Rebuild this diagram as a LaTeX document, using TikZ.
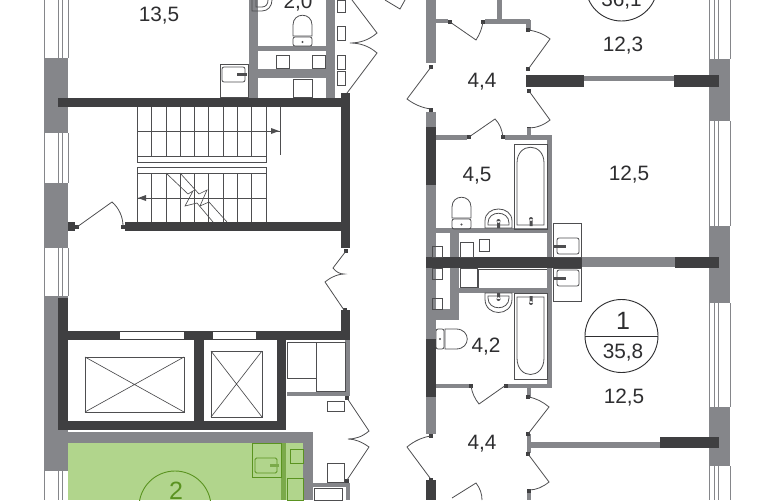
\documentclass[tikz,border=0pt]{standalone}
\usepackage{fontspec}
\setmainfont{Liberation Sans}
\definecolor{wallg}{HTML}{85868A}
\definecolor{walld}{HTML}{3F3F41}
\definecolor{linec}{HTML}{4E4E50}
\definecolor{greenf}{HTML}{B1D58C}
\definecolor{greend}{HTML}{5A9320}
\definecolor{greenw}{HTML}{7BAA4A}
\definecolor{txt}{HTML}{2E2E30}
\newcommand{\wgr}[4]{\fill[wallg] (#1,#2) rectangle (#3,#4);}
\newcommand{\wdk}[4]{\fill[walld] (#1,#2) rectangle (#3,#4);}
\newcommand{\bxx}[4]{\draw[ln] (#1,#2) rectangle (#3,#4);}
\newcommand{\pvt}[2]{\fill[walld] (#1-2,#2-2) rectangle (#1+2,#2+2);}
\newcommand{\winL}[2]{\fill[white] (44,#1) rectangle (68,#2);\foreach \xx in {44,58,62,68}{\draw[winl] (\xx,#1) -- (\xx,#2);}}
\newcommand{\winR}[2]{\fill[white] (709,#1) rectangle (730,#2);\foreach \xx in {709,714,718,730}{\draw[winl] (\xx,#1) -- (\xx,#2);}}
\tikzset{
  ln/.style={draw=linec,line width=0.8pt},
  thinl/.style={draw=linec,line width=0.65pt},
  winl/.style={draw=wallg,line width=0.8pt},
  gl/.style={draw=greend,line width=0.9pt},
  lbl/.style={font=\fontsize{20.8}{21}\selectfont,text=txt,inner sep=0pt,text height=14.5pt,text depth=0pt},
  biglbl/.style={font=\fontsize{25}{25}\selectfont,inner sep=0pt,text height=17.5pt,text depth=0pt},
  circ/.style={draw=txt,line width=0.9pt},
}
\begin{document}
\begin{tikzpicture}[x=1pt,y=-1pt]
\path[use as bounding box,clip] (0,0) rectangle (770,500);
\fill[white] (0,0) rectangle (770,500);
% left windows and piers
\winL{0}{58}\winL{133}{183}\winL{248}{296}\winL{471}{500}
\wgr{44}{58}{68}{133}
\wgr{44}{183}{68}{248}
\wgr{44}{296}{68}{471}
% right windows and piers
\winR{0}{59}\winR{121}{226}\winR{303}{407}\winR{466}{500}
\wgr{709}{59}{730}{121}
\wgr{709}{226}{730}{303}
\wgr{709}{407}{730}{466}
% green flat
\fill[greenf] (68,443) rectangle (303,500);
\wgr{68}{432}{313}{443}
\wgr{303}{432}{313}{500}
\fill[greenw] (281,443) rectangle (286,500);
\draw[gl] (252,443) rectangle (281,477);
\draw[gl,rounded corners=1.5pt] (255,458) rectangle (277,473);
\fill[greenw] (270,464) rectangle (279,467);
\draw[gl] (290,449) rectangle (303,463);
\draw[gl] (287,478) rectangle (303,500);
\draw[draw=greend,line width=0.9pt] (175,507) circle (36);
\node[biglbl,text=greend] (n2) at (176,491) {2};
% stair hall walls
\wdk{58}{98}{350}{107}
\wdk{341}{93}{350}{248}
\wdk{125}{222}{341}{231}
\wdk{68}{222}{75}{231}
\pvt{77}{227}\pvt{123}{227}
\draw[ln] (77,227) -- (112,202) .. controls (119,208) and (123,217) .. (123,226);
% stairs
\foreach \xx in {137.3,151.6,165.9,180.2,194.5,208.8,223.1,237.4,251.7,266}{
  \draw[thinl] (\xx,107) -- (\xx,156);
  \draw[thinl] (\xx,173) -- (\xx,222);
}
\draw[thinl] (280,107) -- (280,155);
\draw[thinl] (137.3,131) -- (280,131);
\fill[linec] (279,131) -- (271,128) -- (271,134) -- cycle;
\draw[thinl] (137.3,198) -- (266,198);
\fill[linec] (138,198) -- (146,195) -- (146,201) -- cycle;
\draw[thinl] (137.3,156) rectangle (266,162);
\draw[thinl] (137.3,167) rectangle (266,173);
\draw[thinl] (166,173) -- (188,194) -- (193,191) -- (185,206) -- (197,203) -- (213,222);
\draw[thinl] (180,173) -- (199,194) -- (207,190) -- (200,206) -- (209,202) -- (227,222);
% lift block
\wdk{58}{298}{68}{430}
\wdk{58}{331}{350}{340}
\wdk{341}{310}{350}{340}
\fill[white] (120,332) rectangle (184,339);
\fill[white] (213,332) rectangle (256,339);
\wdk{194}{331}{204}{430}
\wdk{277}{331}{286}{430}
\wdk{58}{421}{286}{430}
\bxx{85}{357}{184}{412}
\draw[thinl] (85,357) -- (184,412) (85,412) -- (184,357);
\bxx{211}{351}{262}{417}
\draw[thinl] (211,351) -- (262,417) (211,417) -- (262,351);
% storage
\wgr{345}{340}{350}{396}
\wgr{287}{392}{350}{396}
\bxx{287}{342}{316}{378}
\bxx{316}{342}{345}{391}
\bxx{327}{401}{344}{411}
\bxx{327}{463}{344}{482}
\wgr{313}{483}{350}{487}
\wgr{346}{483}{350}{500}
\bxx{314}{488}{342}{500}
\pvt{347}{398}\pvt{347}{481}
\draw[ln] (347,398) -- (369,431) .. controls (362,437) and (355,439) .. (348,439)
  .. controls (355,439) and (362,442) .. (369,447) -- (347,480);
% middle door
\pvt{346}{251}\pvt{345}{310}
\draw[ln] (346,251) -- (333,268) .. controls (336,272) and (340,274) .. (344,274)
  .. controls (340,274) and (332,276) .. (325,282) -- (344,310);
% top-left flat
\wgr{249}{0}{258}{98}
\wgr{326}{0}{335}{98}
\wgr{258}{46}{326}{51}
\wgr{249}{69}{326}{78}
\bxx{276}{55}{289}{68}
\bxx{312}{55}{325}{68}
\bxx{293}{79}{312}{97}
\bxx{337}{0}{345}{12}
\bxx{337}{26}{345}{40}
\bxx{337}{55}{345}{69}
\bxx{337}{71}{345}{85}
\bxx{220}{64}{248}{97}
\draw[ln,rounded corners=2pt] (222,67) rectangle (245,82);
\fill[linec] (237,73.5) rectangle (247,76);
% D sink
\draw[ln] (252,0) -- (252,11) -- (262,11) .. controls (268,11) and (272,6) .. (272,0);
\draw[ln] (256,0) -- (256,7) -- (262,7) .. controls (266,7) and (268,4) .. (268,0);
% toilet 2,0
\draw[ln] (293,36) -- (293,25) .. controls (293,12) and (312,12) .. (312,25) -- (312,36) -- cycle;
\draw[ln,rounded corners=2pt] (293,37) rectangle (312,46);
\fill[linec] (302.5,42) circle (1.2);
\node[lbl] (a1) at (159,14) {13,5};
\node[lbl] (a2) at (298,1) {2,0};
\draw[ln] (347,93) -- (377,53) .. controls (369,46) and (360,43) .. (350,43)
  .. controls (360,43) and (369,40) .. (377,33) -- (352,0);
\draw[ln] (385,0) -- (400,9) -- (405,0);
% right: upper flat
\wgr{426}{0}{436}{63}
\wgr{426}{112}{436}{127}
\wdk{426}{127}{436}{185}
\wgr{426}{185}{436}{320}
\wgr{436}{19}{448}{23}
\wgr{485}{19}{530}{24}
\wgr{497}{0}{502}{20}
\wgr{526}{20}{531}{30}
\pvt{431}{67}\pvt{431}{110}\pvt{450}{22}\pvt{483}{22}\pvt{528}{30}\pvt{528}{69}\pvt{529}{91}\pvt{529}{129}
\draw[ln] (431,67) -- (407,99) .. controls (415,105) and (423,108) .. (431,109);
\draw[ln] (450,22) -- (476,40) .. controls (480,34) and (482,28) .. (483,22);
\draw[ln] (528,30) .. controls (536,31) and (544,34) .. (550,39) -- (529,68);
\draw[ln] (529,91) -- (550,120) .. controls (544,125) and (536,128) .. (529,128);
\wdk{526}{75}{584}{87}
\wgr{584}{76}{674}{81}
\wdk{674}{75}{719}{87}
\wgr{527}{128}{531}{135}
\wgr{436}{135}{467}{140}
\wgr{505}{135}{552}{140}
\pvt{469}{137}\pvt{503}{137}
\draw[ln] (469,137) -- (495,119) .. controls (500,124) and (502,130) .. (503,137);
\wgr{547}{135}{552}{293}
\wgr{426}{228}{552}{233}
\bxx{514}{144}{547}{229}
\draw[ln] (517,225) -- (517,163) .. controls (517,142) and (544,142) .. (544,163) -- (544,225) -- cycle;
\fill[linec] (531,219) circle (2) (529.5,219) rectangle (532.5,226);
% toilet 4,5
\draw[ln] (452,218) -- (452,207) .. controls (452,194) and (471,194) .. (471,207) -- (471,218) -- cycle;
\draw[ln,rounded corners=2pt] (452,219) rectangle (471,229);
\fill[linec] (461.5,224.5) circle (1.2);
% basin upper
\draw[ln] (485,228) -- (485,221) .. controls (485,205) and (512,205) .. (512,221) -- (512,228) -- cycle;
\draw[ln] (488,225) -- (488,223) .. controls (488,210) and (509,210) .. (509,223) -- (509,225) -- cycle;
\fill[linec] (498.5,221) circle (2) (497,221) rectangle (500,228);
% service shafts
\wgr{450}{233}{459}{320}
\wgr{426}{309}{459}{320}
\wdk{426}{257}{582}{268}
\wgr{582}{257}{675}{267}
\wdk{675}{257}{719}{268}
\bxx{432}{246}{442}{257}
\bxx{432}{268}{442}{279}
\bxx{432}{298}{442}{309}
\bxx{460}{242}{473}{257}
\bxx{479}{239}{489}{251}
\bxx{460}{268}{477}{287}
\bxx{478}{269}{548}{288}
\wgr{459}{288}{552}{293}
\wgr{547}{268}{552}{388}
\bxx{553}{223}{581}{257}
\draw[ln,rounded corners=2pt] (557,238) rectangle (579,254);
\fill[linec] (554,245) rectangle (566,248);
\bxx{553}{268}{581}{301}
\draw[ln,rounded corners=2pt] (557,270) rectangle (579,286);
\fill[linec] (554,277) rectangle (566,280);
% basin lower
\draw[ln] (485,293) -- (485,299) .. controls (485,317) and (512,317) .. (512,299) -- (512,293) -- cycle;
\draw[ln] (488,296) -- (488,298) .. controls (488,311) and (509,311) .. (509,298) -- (509,296) -- cycle;
\fill[linec] (498.5,299) circle (2) (497,293) rectangle (500,299);
% bath lower
\bxx{514}{293}{547}{379}
\draw[ln] (517,297) -- (517,358) .. controls (517,380) and (544,380) .. (544,358) -- (544,297) -- cycle;
\fill[linec] (531,303) circle (2) (529.5,296) rectangle (532.5,303);
% toilet 4,2
\draw[ln] (445,329) -- (456,329) .. controls (471,329) and (471,349) .. (456,349) -- (445,349) -- cycle;
\draw[ln,rounded corners=2pt] (436,329) rectangle (444,349);
\fill[linec] (440,339) circle (1.2);
% lower flat
\wgr{426}{320}{436}{339}
\wdk{426}{339}{436}{397}
\wgr{426}{397}{436}{434}
\wdk{426}{480}{436}{500}
\wgr{436}{384}{470}{388}
\wgr{507}{384}{552}{388}
\wgr{527}{388}{531}{398}
\wgr{527}{434}{531}{453}
\wgr{527}{490}{531}{500}
\wgr{531}{442}{660}{448}
\wdk{660}{437}{719}{448}
\pvt{431}{436}\pvt{431}{480}\pvt{471}{386}\pvt{506}{386}\pvt{528}{397}\pvt{528}{434}\pvt{528}{454}\pvt{529}{491}
\draw[ln] (431,436) .. controls (423,437) and (414,441) .. (407,447) -- (430,478);
\draw[ln] (471,386) .. controls (472,393) and (475,399) .. (479,404) -- (506,385);
\draw[ln] (528,397) .. controls (536,398) and (543,402) .. (549,407) -- (528,434);
\draw[ln] (528,454) -- (549,482) .. controls (543,487) and (536,490) .. (529,490);
\draw[ln] (452,498) -- (476,483) .. controls (480,488) and (482,494) .. (482,500);
% circles
\draw[circ] (621.5,-15) circle (36);
\node[lbl] (b0) at (621.5,-1) {36,1};
\draw[circ] (621.5,336) circle (36.5);
\draw[circ] (585,336) -- (658,336);
\node[biglbl,text=txt] (b1) at (623,321) {1};
\node[lbl] (b2) at (623,351) {35,8};
% labels
\node[lbl] (c1) at (482,80) {4,4};
\node[lbl] (c2) at (623,44) {12,3};
\node[lbl] (c3) at (477,174) {4,5};
\node[lbl] (c4) at (629,173) {12,5};
\node[lbl] (c5) at (486,345) {4,2};
\node[lbl] (c6) at (624,396) {12,5};
\node[lbl] (c7) at (482,442) {4,4};
\end{tikzpicture}
\end{document}
